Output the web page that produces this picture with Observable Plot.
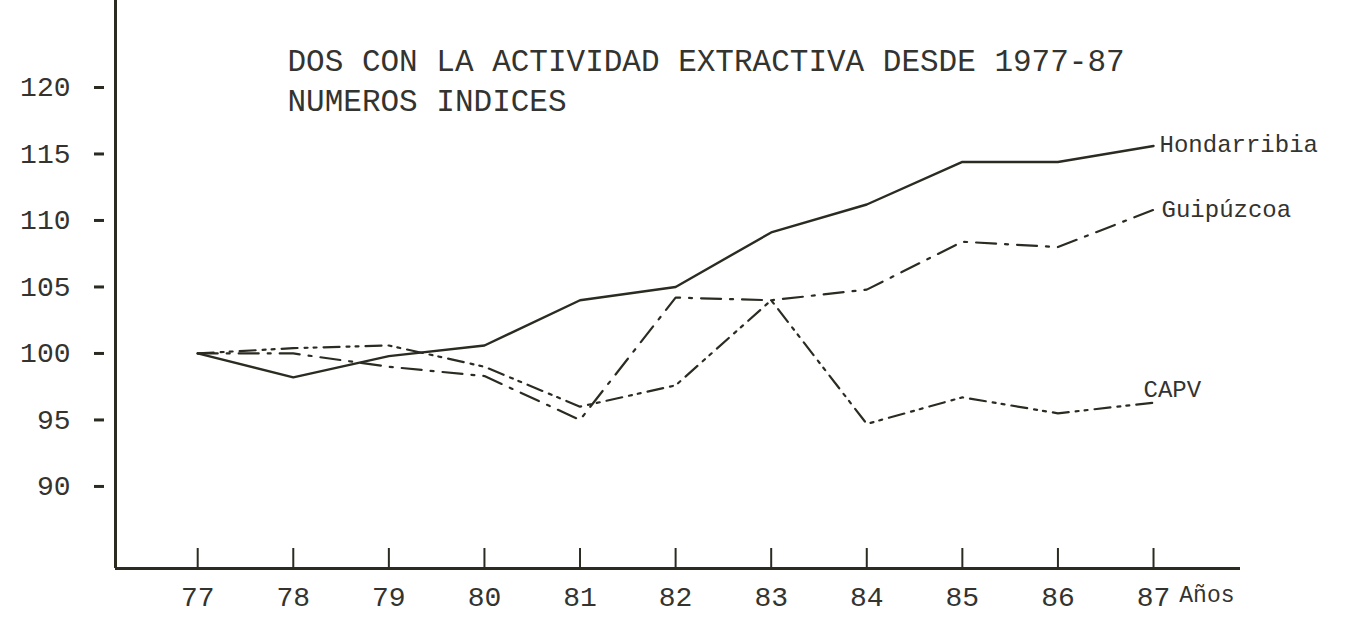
<!DOCTYPE html>
<html>
<head>
<meta charset="utf-8">
<script src="https://cdn.jsdelivr.net/npm/d3@7"></script>
<script src="https://cdn.jsdelivr.net/npm/@observablehq/plot@0.6"></script>
<style>
  html, body { margin: 0; padding: 0; background: #ffffff; }
  #chart { width: 1347px; height: 617px; }
</style>
</head>
<body>
<div id="chart"></div>
<script>
// ---- data ----
const years = [77, 78, 79, 80, 81, 82, 83, 84, 85, 86, 87];
const hondarribia = [100, 98.2, 99.8, 100.6, 104.0, 105.0, 109.1, 111.2, 114.4, 114.4, 115.6];
const guipuzcoa   = [100, 100.0, 99.0, 98.3, 95.0, 104.2, 104.0, 104.8, 108.4, 108.0, 110.8];
const capv        = [100, 100.4, 100.6, 99.0, 96.0, 97.6, 104.0, 94.7, 96.7, 95.5, 96.3];
const seriesNames = ["Hondarribia", "Guipúzcoa", "CAPV"];
const yTicks = [90, 95, 100, 105, 110, 115, 120];
const titleLines = ["DOS CON LA ACTIVIDAD EXTRACTIVA DESDE 1977-87", "NUMEROS INDICES"];
const xAxisLabel = "Años";

const xDomain = [76.14, 87.91];
const yDomain = [83.83, 126.54];

const rows = [];
[hondarribia, guipuzcoa, capv].forEach((vals, i) => {
  years.forEach((yr, j) => rows.push({series: seriesNames[i], year: yr, value: vals[j]}));
});
const bySeries = name => rows.filter(d => d.series === name);

const W = 1347, H = 617;
const mL = 115, mR = 107, mT = 0, mB = 49;
const frameW = W - mL - mR, frameH = H - mT - mB;

const ink = "#2b2b22";
const textInk = "#333330";
const mono = "'Liberation Mono', 'DejaVu Sans Mono', monospace";

const chart = Plot.plot({
  width: W,
  height: H,
  marginLeft: mL,
  marginRight: mR,
  marginTop: mT,
  marginBottom: mB,
  x: {domain: xDomain, ticks: years, tickSize: 0, tickPadding: 18, tickFormat: d => String(d), label: null},
  y: {domain: yDomain, ticks: yTicks, tickSize: 0, tickPadding: 45, label: null},
  style: {background: "#ffffff", fontFamily: mono, fontSize: "28px", color: textInk},
  marks: [
    // axes lines
    Plot.ruleX([xDomain[0]], {stroke: ink, strokeWidth: 3}),
    Plot.ruleY([yDomain[0]], {stroke: ink, strokeWidth: 3}),
    // y axis ticks: short dashes detached from the axis
    Plot.tickY(yTicks, {y: d => d, stroke: ink, strokeWidth: 3, insetLeft: -21, insetRight: frameW + 11}),
    // x axis ticks pointing upward
    Plot.tickX(years, {x: d => d, stroke: ink, strokeWidth: 2, insetTop: frameH - 20}),
    Plot.text([xAxisLabel], {frameAnchor: "bottom-right", textAnchor: "end", dx: -6, dy: 33, fontSize: 23, fill: textInk, fontFamily: mono}),
    // series lines
    Plot.line(bySeries("Hondarribia"), {x: "year", y: "value", stroke: ink, strokeWidth: 2.4}),
    Plot.line(bySeries("Guipúzcoa"), {x: "year", y: "value", stroke: ink, strokeWidth: 2.2, strokeDasharray: "20,9,3,9"}),
    Plot.line(bySeries("CAPV"), {x: "year", y: "value", stroke: ink, strokeWidth: 2.2, strokeDasharray: "16,7,3,6,3,7"}),
    // series labels at line ends
    Plot.text(bySeries("Hondarribia"), Plot.selectLast({x: "year", y: "value", text: "series", textAnchor: "start", dx: 6, dy: -2, fontSize: 24, fill: textInk, fontFamily: mono})),
    Plot.text(bySeries("Guipúzcoa"), Plot.selectLast({x: "year", y: "value", text: "series", textAnchor: "start", dx: 8, dy: -1, fontSize: 24, fill: textInk, fontFamily: mono})),
    Plot.text(bySeries("CAPV"), Plot.selectLast({x: "year", y: "value", text: "series", textAnchor: "start", dx: -10, dy: -13, fontSize: 24, fill: textInk, fontFamily: mono})),
    // title lines inside the plot area
    Plot.text([titleLines[0]], {frameAnchor: "top-left", textAnchor: "start", dx: 172, dy: 48, fontSize: 31, fill: textInk, fontFamily: mono}),
    Plot.text([titleLines[1]], {frameAnchor: "top-left", textAnchor: "start", dx: 172, dy: 88, fontSize: 31, fill: textInk, fontFamily: mono})
  ]
});
document.getElementById("chart").appendChild(chart);
</script>
</body>
</html>
